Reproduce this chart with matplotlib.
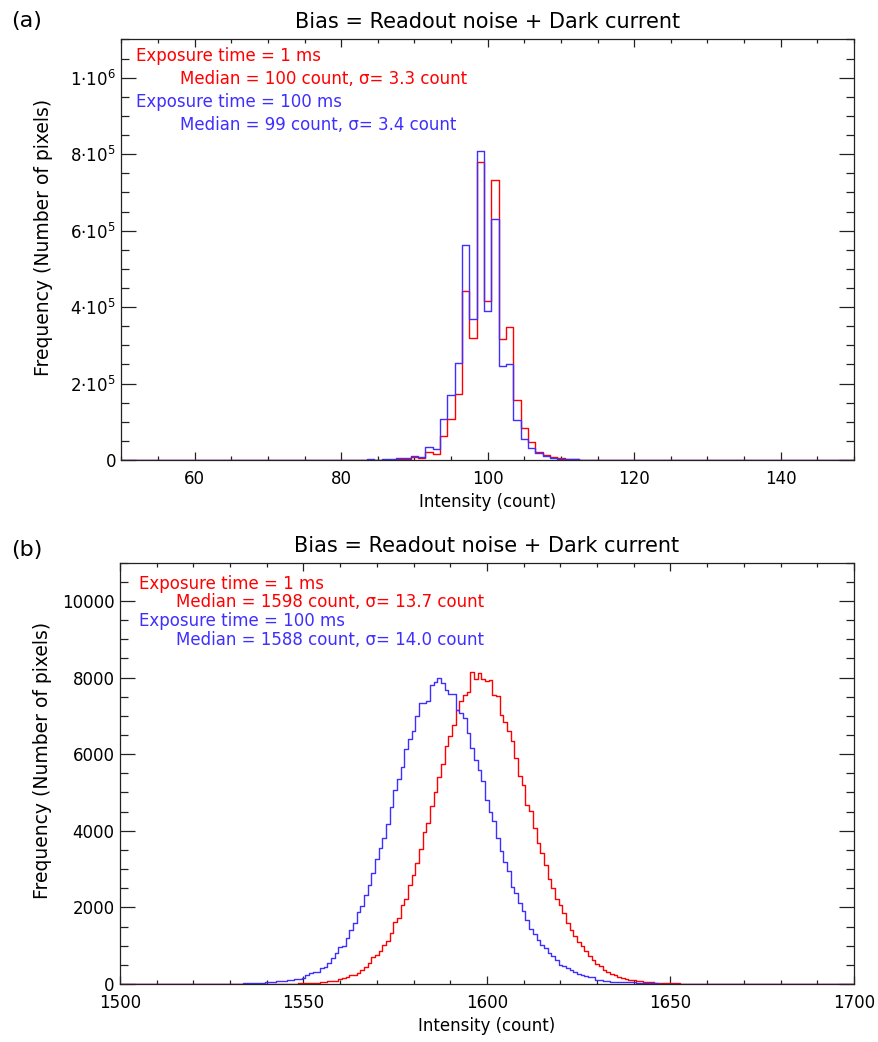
import numpy as np
import matplotlib
matplotlib.use('Agg')
import matplotlib.pyplot as plt
from matplotlib.ticker import MultipleLocator, FixedLocator

RED = '#FF0000'
BLUE = '#3F2FFF'

# ---- panel (a): 1 ms vs 100 ms, low level ----
a_first = 83
a_red = [500, 500, 500, 900, 900, 1700, 1700, 8700, 4300, 20000,
         15600, 63400, 108500, 173600, 441000, 319400, 779500, 416600, 733500, 316800,
         349000, 156200, 85100, 46000, 21700, 13000, 7000, 4500, 3000, 2000,
         1200, 800, 500, 300, 200]
a_blue = [1000, 1700, 500, 1700, 2600, 4300, 4300, 11300, 8700, 33000,
          27800, 106800, 169300, 254300, 561600, 368900, 809000, 388900, 629300, 244800,
          251700, 104200, 53800, 30400, 17400, 10400, 6000, 4000, 2500, 1500,
          1000, 800, 500, 300, 200]
a_yticks = [0, 2e5, 4e5, 6e5, 8e5, 1e6]
a_yticklabels = ['0', '2·10$^5$', '4·10$^5$', '6·10$^5$', '8·10$^5$', '1·10$^6$']
a_text = ['Exposure time = 1 ms', 'Median = 100 count, σ= 3.3 count',
          'Exposure time = 100 ms', 'Median = 99 count, σ= 3.4 count']

# ---- panel (b): 1 ms vs 100 ms, high level ----
b_first = 1530
b_red = [5, 0, 0, 0, 0, 0, 0, 0, 0, 0,
         0, 5, 5, 8, 8, 10, 10, 12, 12, 15,
         17, 17, 25, 35, 35, 45, 61, 70, 87, 87,
         122, 148, 191, 235, 235, 296, 365, 452, 557, 696,
         748, 870, 1009, 1130, 1339, 1617, 1713, 2061, 2226, 2583,
         2835, 3165, 3522, 3957, 4200, 4652, 5000, 5400, 5748, 6218,
         6478, 6765, 7157, 7400, 7548, 7635, 8148, 7957, 8113, 7957,
         7922, 7939, 7548, 7522, 7026, 6852, 6618, 6331, 5887, 5435,
         5200, 4678, 4504, 4070, 3678, 3418, 3113, 2739, 2504, 2217,
         2070, 1852, 1591, 1417, 1243, 1087, 1000, 852, 739, 635,
         530, 478, 374, 304, 261, 226, 183, 157, 130, 96,
         96, 70, 70, 60, 43, 43, 26, 26, 26, 20,
         20, 15, 15, 12, 10, 10, 8, 6, 5, 4,
         3]
b_blue = [5, 5, 10, 10, 20, 20, 25, 25, 30, 35,
          40, 43, 50, 70, 75, 80, 100, 113, 120, 140,
          165, 235, 278, 304, 304, 426, 452, 539, 670, 817,
          974, 1000, 1191, 1409, 1583, 1878, 2035, 2322, 2583, 2904,
          3270, 3539, 3800, 4165, 4626, 5068, 5364, 5668, 6146, 6389,
          6607, 6998, 7331, 7331, 7392, 7809, 7896, 7983, 7852, 7678,
          7574, 7574, 7157, 7087, 6939, 6548, 6157, 5852, 5591, 5287,
          4809, 4478, 4244, 3809, 3461, 3183, 2939, 2522, 2374, 2113,
          1896, 1678, 1435, 1313, 1157, 1026, 939, 809, 722, 635,
          504, 461, 417, 357, 304, 270, 243, 200, 174, 174,
          113, 113, 87, 87, 61, 61, 61, 43, 43, 43,
          43, 26, 26, 26, 17, 17, 17, 9, 9, 9,
          9, 5, 4, 3, 2, 1, 0, 0, 0, 0,
          0]
b_yticks = [0, 2000, 4000, 6000, 8000, 10000]
b_yticklabels = ['0', '2000', '4000', '6000', '8000', '10000']
b_text = ['Exposure time = 1 ms', 'Median = 1598 count, σ= 13.7 count',
          'Exposure time = 100 ms', 'Median = 1588 count, σ= 14.0 count']

TITLE = 'Bias = Readout noise + Dark current'


def full_hist(lo, hi, first, values):
    x = np.arange(lo, hi + 1)
    y = np.zeros(len(x))
    y[first - lo:first - lo + len(values)] = values
    return x, y


def style_axes(ax, xmaj, xmin, ymaj, ymin):
    ax.xaxis.set_major_locator(MultipleLocator(xmaj))
    ax.xaxis.set_minor_locator(MultipleLocator(xmin))
    ax.yaxis.set_minor_locator(MultipleLocator(ymin))
    ax.tick_params(which='both', direction='in', top=True, right=True,
                   color='#222222', width=0.9, labelsize=12)
    ax.tick_params(axis='x', which='major', length=6, pad=7)
    ax.tick_params(axis='x', which='minor', length=3)
    ax.tick_params(axis='y', which='major', length=11, pad=4)
    ax.tick_params(axis='y', which='minor', length=5.5)
    for s in ax.spines.values():
        s.set_linewidth(0.9)
        s.set_color('#222222')
    ax.set_xlabel('Intensity (count)', fontsize=12)
    ax.xaxis.label.set_va('center')
    ax.xaxis.set_label_coords(0.5, -0.1)
    ax.set_ylabel('Frequency (Number of pixels)', fontsize=13.5)
    ax.yaxis.label.set_va('center')


fig = plt.figure(figsize=(8.79, 10.42), dpi=100)

# panel (a)
ax1 = fig.add_axes([0.1382, 0.5585, 0.8333, 0.4036])
x, y = full_hist(50, 150, a_first, a_red)
ax1.step(x, y, where='mid', color=RED, lw=1.0)
x, y = full_hist(50, 150, a_first, a_blue)
ax1.step(x, y, where='mid', color=BLUE, lw=1.0)
ax1.set_xlim(50, 150)
ax1.set_ylim(0, 1.1e6)
style_axes(ax1, 20, 5, 2e5, 5e4)
ax1.yaxis.set_major_locator(FixedLocator(a_yticks))
ax1.set_yticklabels(a_yticklabels)
ax1.yaxis.set_label_coords(-0.107, 0.53)
ax1.text(0.5, 1.042, TITLE, transform=ax1.transAxes, ha='center', va='center', fontsize=15)
for (tx, ty), s, c in zip([(0.0198, 0.9607), (0.0799, 0.906), (0.0198, 0.852), (0.0799, 0.797)],
                          a_text, [RED, RED, BLUE, BLUE]):
    ax1.text(tx, ty, s, transform=ax1.transAxes, ha='left', va='center', color=c, fontsize=12)

# panel (b)
ax2 = fig.add_axes([0.1365, 0.0557, 0.8350, 0.4043])
x, y = full_hist(1500, 1700, b_first, b_red)
ax2.step(x, y, where='mid', color=RED, lw=1.0)
x, y = full_hist(1500, 1700, b_first, b_blue)
ax2.step(x, y, where='mid', color=BLUE, lw=1.0)
ax2.set_xlim(1500, 1700)
ax2.set_ylim(0, 11000)
style_axes(ax2, 50, 10, 2000, 500)
ax2.yaxis.set_major_locator(FixedLocator(b_yticks))
ax2.set_yticklabels(b_yticklabels)
ax2.yaxis.set_label_coords(-0.105, 0.53)
ax2.text(0.5, 1.04, TITLE, transform=ax2.transAxes, ha='center', va='center', fontsize=15)
for (tx, ty), s, c in zip([(0.0259, 0.9494), (0.0763, 0.9074), (0.0259, 0.8623), (0.0763, 0.8165)],
                          b_text, [RED, RED, BLUE, BLUE]):
    ax2.text(tx, ty, s, transform=ax2.transAxes, ha='left', va='center', color=c, fontsize=12)

fig.text(0.0307, 0.9798, '(a)', ha='center', va='center', fontsize=16)
fig.text(0.0307, 0.4722, '(b)', ha='center', va='center', fontsize=16)

fig.savefig('out.png', dpi=100)
